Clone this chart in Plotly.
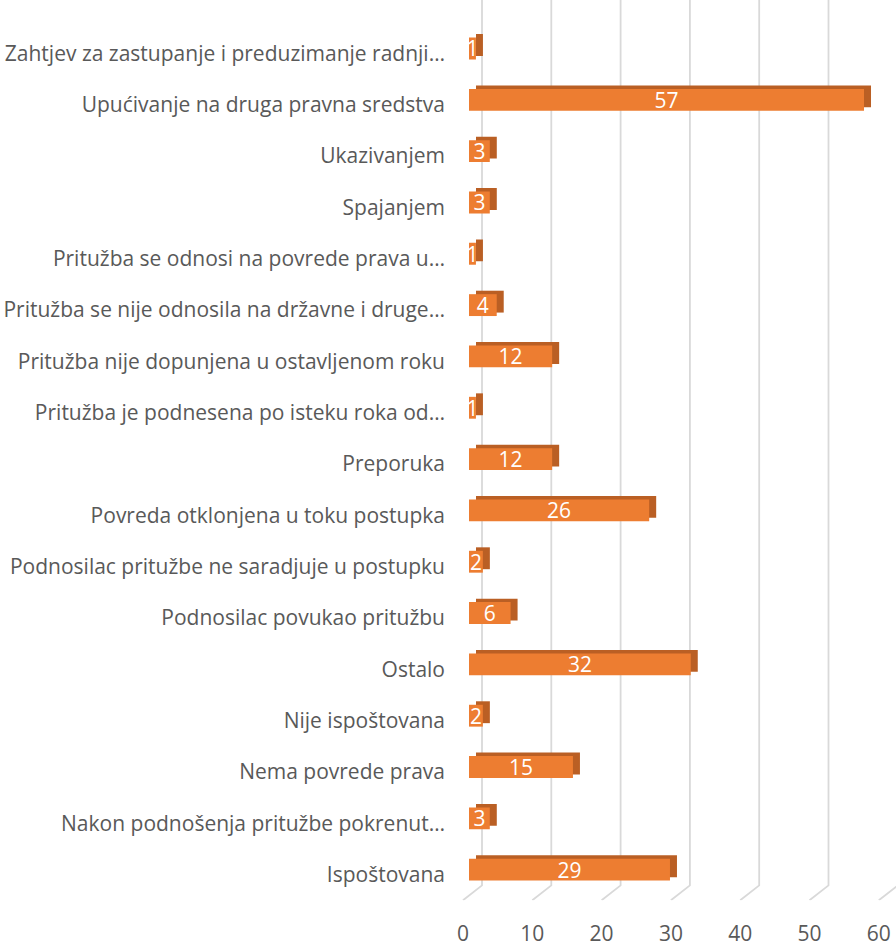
import plotly.graph_objects as go

# categories listed bottom -> top, as plotly draws them
categories = [
    'Ispoštovana',
    'Nakon podnošenja pritužbe pokrenut…',
    'Nema povrede prava',
    'Nije ispoštovana',
    'Ostalo',
    'Podnosilac povukao pritužbu',
    'Podnosilac pritužbe ne saradjuje u postupku',
    'Povreda otklonjena u toku postupka',
    'Preporuka',
    'Pritužba je podnesena po isteku roka od…',
    'Pritužba nije dopunjena u ostavljenom roku',
    'Pritužba se nije odnosila na državne i druge…',
    'Pritužba se odnosi na povrede prava u…',
    'Spajanjem',
    'Ukazivanjem',
    'Upućivanje na druga pravna sredstva',
    'Zahtjev za zastupanje i preduzimanje radnji…',
]
values = [29, 3, 15, 2, 32, 6, 2, 26, 12, 1, 12, 4, 1, 3, 3, 57, 1]
tick_values = [0, 10, 20, 30, 40, 50, 60]

ORANGE = '#ED7D31'
SHADE = '#BA5F24'
GRID = '#D9D9D9'
TEXT = '#595959'
FONT = 'Open Sans'
FONT_SIZE = 21

# geometry of the fake 3d box, in pixels
W, H = 896, 947
PX_PER_UNIT = 6.93
ZERO_PX = 469            # where 0 sits on the front plane of the bars
CAT_TOP_PX, CAT_BOTTOM_PX = 27, 906
BAR_LIFT_PX = 4          # bars sit a little above their labels
DEPTH_X_PX, DEPTH_Y_PX = 7, 3.5
GRID_BACK_PX = 13        # back wall offset of gridlines
FLOOR_FRONT_PX = -6      # front edge of the floor
FLOOR_BACK_Y, FLOOR_FRONT_Y = 892, 907


def frac_y(px):
    return 1 - px / H


x_range = [-ZERO_PX / PX_PER_UNIT, (W - ZERO_PX) / PX_PER_UNIT]
shade_range = [x_range[0] - DEPTH_X_PX / PX_PER_UNIT, x_range[1] - DEPTH_X_PX / PX_PER_UNIT]
cat_domain = [frac_y(CAT_BOTTOM_PX), frac_y(CAT_TOP_PX)]
bar_domain = [d + BAR_LIFT_PX / H for d in cat_domain]
shade_domain = [d + (BAR_LIFT_PX + DEPTH_Y_PX) / H for d in cat_domain]
cat_range = [-0.5, len(categories) - 0.5]

# gridlines: vertical on the back wall, then slanting across the floor
back_dx = GRID_BACK_PX / PX_PER_UNIT
front_dx = FLOOR_FRONT_PX / PX_PER_UNIT
floor_f = (FLOOR_FRONT_Y - FLOOR_BACK_Y) / FLOOR_FRONT_Y
gx, gy = [], []
for v in tick_values:
    gx += [v + back_dx, v + back_dx, v + front_dx, None]
    gy += [1, floor_f, 0, None]

fig = go.Figure()
fig.add_trace(go.Scatter(x=gx, y=gy, mode='lines', hoverinfo='skip',
                         line=dict(color=GRID, width=1.8), xaxis='x', yaxis='y'))
fig.add_trace(go.Bar(x=values, y=categories, orientation='h', hoverinfo='skip',
                     marker=dict(color=SHADE, line=dict(width=0)), xaxis='x2', yaxis='y2'))
fig.add_trace(go.Bar(x=values, y=categories, orientation='h', hoverinfo='skip',
                     marker=dict(color=ORANGE, line=dict(width=0)),
                     text=[str(v) for v in values], textposition='inside',
                     insidetextanchor='middle', textangle=0,
                     textfont=dict(color='white', size=FONT_SIZE, family=FONT),
                     xaxis='x3', yaxis='y3'))

fig.update_layout(
    width=W, height=H,
    margin=dict(l=0, r=0, t=0, b=0),
    plot_bgcolor='rgba(0,0,0,0)', paper_bgcolor='white',
    showlegend=False,
    bargap=0.574,
    uniformtext=dict(minsize=FONT_SIZE, mode='show'),
    font=dict(family=FONT, color=TEXT, size=FONT_SIZE),
    xaxis=dict(domain=[0, 1], range=x_range, tickvals=tick_values, showgrid=False,
               zeroline=False, showline=False, ticks='', anchor='free',
               position=frac_y(FLOOR_FRONT_Y), ticklabelshift=FLOOR_FRONT_PX,
               ticklabelstandoff=19, tickfont=dict(size=FONT_SIZE, color=TEXT)),
    yaxis=dict(domain=[frac_y(FLOOR_FRONT_Y), 1], range=[0, 1], visible=False),
    xaxis2=dict(domain=[0, 1], range=shade_range, anchor='y2', visible=False),
    yaxis2=dict(domain=shade_domain, anchor='x2', type='category',
                categoryarray=categories, range=cat_range, visible=False),
    xaxis3=dict(domain=[0, 1], range=x_range, anchor='y3', visible=False),
    yaxis3=dict(domain=bar_domain, type='category', categoryarray=categories,
                range=cat_range, anchor='free', position=445 / W, showgrid=False,
                zeroline=False, showline=False, ticks='', ticklabelshift=5,
                tickfont=dict(size=FONT_SIZE, color=TEXT)),
)

# fill the browser window exactly, whatever its inner height is
page_js = ("document.body.style.margin='0';"
           "var d=document.getElementById('{plot_id}');"
           "d.style.height=window.innerHeight+'px';"
           "Plotly.relayout(d, {height: window.innerHeight});")
fig.write_html('out.html', config={'displayModeBar': False}, post_script=page_js)
